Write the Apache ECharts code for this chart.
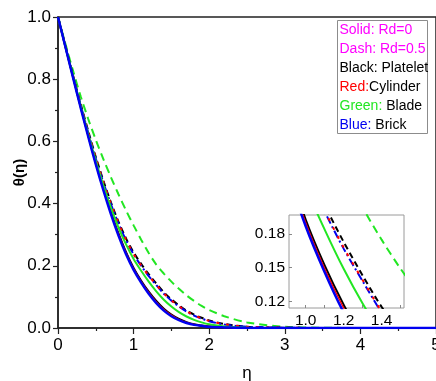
<!DOCTYPE html>
<html>
<head>
<meta charset="utf-8">
<script src="https://cdn.jsdelivr.net/npm/echarts@6/dist/echarts.min.js"></script>
<style>
  html, body { margin: 0; padding: 0; background: #fff; }
  #chart { width: 436px; height: 381px; }
</style>
</head>
<body>
<div id="chart"></div>
<script>
// Similarity variable eta
const eta = [0, 0.1, 0.2, 0.3, 0.4, 0.5, 0.6, 0.7, 0.8, 0.9, 1.0, 1.1, 1.2, 1.3, 1.4, 1.5,
             1.6, 1.7, 1.8, 1.9, 2.0, 2.2, 2.5, 3.0, 3.5, 4.0, 4.5, 5.0];

// Temperature profiles theta(eta), Rd = 0 (solid)
const plateletRd0 = [1, 0.903, 0.806, 0.711, 0.619, 0.531, 0.449, 0.373, 0.304, 0.244, 0.193, 0.152, 0.117, 0.087, 0.062, 0.043,
                     0.029, 0.019, 0.012, 0.008, 0.005, 0.002, 0, 0, 0, 0, 0, 0];
const cylinderRd0 = [1, 0.902, 0.805, 0.710, 0.617, 0.529, 0.446, 0.370, 0.301, 0.241, 0.190, 0.149, 0.114, 0.084, 0.059, 0.041,
                     0.027, 0.018, 0.011, 0.007, 0.005, 0.002, 0, 0, 0, 0, 0, 0];
const bladeRd0    = [1, 0.903, 0.807, 0.713, 0.623, 0.538, 0.459, 0.387, 0.323, 0.269, 0.222, 0.184, 0.149, 0.118, 0.091, 0.069,
                     0.051, 0.037, 0.026, 0.018, 0.012, 0.005, 0.001, 0, 0, 0, 0, 0];
const brickRd0    = [1, 0.902, 0.804, 0.708, 0.615, 0.526, 0.443, 0.366, 0.297, 0.237, 0.187, 0.146, 0.110, 0.080, 0.056, 0.038,
                     0.025, 0.016, 0.010, 0.007, 0.004, 0.002, 0, 0, 0, 0, 0, 0];

// Temperature profiles theta(eta), Rd = 0.5 (dashed)
const plateletRd05 = [1, 0.905, 0.811, 0.720, 0.633, 0.550, 0.474, 0.404, 0.342, 0.288, 0.243, 0.206, 0.173, 0.143, 0.115, 0.092,
                      0.073, 0.056, 0.043, 0.033, 0.024, 0.013, 0.004, 0.001, 0, 0, 0, 0];
const cylinderRd05 = [1, 0.904, 0.809, 0.717, 0.629, 0.546, 0.469, 0.399, 0.337, 0.283, 0.238, 0.201, 0.168, 0.139, 0.111, 0.089,
                      0.070, 0.054, 0.041, 0.031, 0.023, 0.012, 0.004, 0.001, 0, 0, 0, 0];
const bladeRd05    = [1, 0.912, 0.826, 0.745, 0.672, 0.605, 0.543, 0.485, 0.430, 0.378, 0.330, 0.284, 0.241, 0.204, 0.175, 0.149,
                      0.126, 0.105, 0.087, 0.071, 0.058, 0.038, 0.018, 0.004, 0.001, 0, 0, 0];
const brickRd05    = [1, 0.904, 0.809, 0.717, 0.628, 0.545, 0.468, 0.398, 0.336, 0.282, 0.237, 0.200, 0.167, 0.138, 0.110, 0.088,
                      0.069, 0.053, 0.040, 0.030, 0.022, 0.011, 0.004, 0.001, 0, 0, 0, 0];

// Tick labels
const xTicksMain = [0, 1, 2, 3, 4, 5];
const yTicksMain = [0, 0.2, 0.4, 0.6, 0.8, 1.0];
const xTicksInset = [1.0, 1.2, 1.4];
const yTicksInset = [0.12, 0.15, 0.18];

const BLACK = '#000000', RED = '#ff0000', GREEN = '#22e622', BLUE = '#0000f0', MAGENTA = '#ff00ff';
const FONT = 'Liberation Sans, Arial, sans-serif';

const pairs = arr => eta.map((x, i) => [x, arr[i]]);

// drawing order: last drawn sits on top
const curves = [
  { name: 'Blade Rd=0.5',    data: bladeRd05,    color: GREEN, type: [8, 5],        width: 2 },
  { name: 'Platelet Rd=0.5', data: plateletRd05, color: BLACK, type: [6, 4],        width: 2 },
  { name: 'Brick Rd=0.5',    data: brickRd05,    color: BLUE,  type: [8, 3, 2, 3],  width: 2 },
  { name: 'Cylinder Rd=0.5', data: cylinderRd05, color: RED,   type: [3, 7],        width: 2 },
  { name: 'Platelet Rd=0',   data: plateletRd0,  color: BLACK, type: 'solid',       width: 2 },
  { name: 'Cylinder Rd=0',   data: cylinderRd0,  color: RED,   type: 'solid',       width: 1.5 },
  { name: 'Blade Rd=0',      data: bladeRd0,     color: GREEN, type: 'solid',       width: 2 },
  { name: 'Brick Rd=0',      data: brickRd0,     color: BLUE,  type: 'solid',       width: 2.5 }
];

const series = [];
curves.forEach(c => {
  [0, 1].forEach(g => {
    series.push({
      name: c.name,
      type: 'line',
      xAxisIndex: g,
      yAxisIndex: g,
      data: pairs(c.data),
      smooth: 0.3,
      showSymbol: false,
      clip: true,
      z: g === 0 ? 2 : 7,
      lineStyle: { color: c.color, width: c.width, type: c.type }
    });
  });
});

const chart = echarts.init(document.getElementById('chart'), null, { renderer: 'canvas' });

const legendLines = [
  '{m|Solid: Rd=0}',
  '{m|Dash: Rd=0.5}',
  '{k|Black: Platelet}',
  '{r|Red:}{k|Cylinder}',
  '{g|Green:}{k| Blade}',
  '{b|Blue:}{k| Brick}'
];
const legendStyles = {
  m: { fill: MAGENTA, fontSize: 14, fontFamily: FONT },
  k: { fill: BLACK, fontSize: 14, fontFamily: FONT },
  r: { fill: RED, fontSize: 14, fontFamily: FONT },
  g: { fill: GREEN, fontSize: 14, fontFamily: FONT },
  b: { fill: BLUE, fontSize: 14, fontFamily: FONT }
};

const option = {
  animation: false,
  backgroundColor: '#ffffff',
  grid: [
    { left: 58, right: 0, top: 17, bottom: 53, show: true, borderColor: '#222', borderWidth: 1.5, z: 0,
      containLabel: false, outerBoundsMode: 'none' },
    { left: 289, top: 215, width: 115, height: 93, show: true, borderColor: '#9a9a9a', borderWidth: 1,
      backgroundColor: '#ffffff', z: 5, containLabel: false, outerBoundsMode: 'none' }
  ],
  xAxis: [
    {
      type: 'value', gridIndex: 0, min: xTicksMain[0], max: xTicksMain[xTicksMain.length - 1], interval: 1,
      name: 'η', nameLocation: 'middle', nameGap: 37, nameMoveOverlap: false,
      nameTextStyle: { fontSize: 17, color: '#000', fontFamily: FONT },
      axisLine: { show: true, onZero: false, lineStyle: { color: '#222', width: 1.5 } },
      axisTick: { show: true, inside: false, length: 6, lineStyle: { color: '#222', width: 1.2 } },
      minorTick: { show: true, splitNumber: 2, length: 3, lineStyle: { color: '#222', width: 1.2 } },
      axisLabel: { fontSize: 17, color: '#000', fontFamily: FONT, margin: 9, showMaxLabel: true,
                   alignMaxLabel: 'center', formatter: v => String(v) },
      splitLine: { show: false }
    },
    {
      type: 'value', gridIndex: 1, min: 0.912, max: 1.518, z: 6,
      axisLine: { show: false },
      axisTick: { show: true, inside: true, length: 3, customValues: [1.0, 1.1, 1.2, 1.3, 1.4, 1.5],
                  lineStyle: { color: '#888', width: 1 } },
      axisLabel: { fontSize: 15.5, color: '#000', fontFamily: FONT, margin: 5, customValues: xTicksInset,
                   formatter: v => v.toFixed(1) },
      splitLine: { show: false }
    }
  ],
  yAxis: [
    {
      type: 'value', gridIndex: 0, min: yTicksMain[0], max: yTicksMain[yTicksMain.length - 1], interval: 0.2,
      name: 'θ(η)', nameLocation: 'middle', nameGap: 31, nameRotate: 90, nameMoveOverlap: false,
      nameTextStyle: { fontSize: 15, fontWeight: 'bold', color: '#000', fontFamily: FONT },
      axisLine: { show: true, onZero: false, lineStyle: { color: '#222', width: 1.5 } },
      axisTick: { show: true, inside: false, length: 5, lineStyle: { color: '#222', width: 1.2 } },
      minorTick: { show: true, splitNumber: 2, length: 3, lineStyle: { color: '#222', width: 1.2 } },
      axisLabel: { fontSize: 17, color: '#000', fontFamily: FONT, margin: 7, formatter: v => v.toFixed(1) },
      splitLine: { show: false }
    },
    {
      type: 'value', gridIndex: 1, min: 0.114, max: 0.197, z: 6,
      axisLine: { show: false },
      axisTick: { show: true, inside: true, length: 3, customValues: yTicksInset,
                  lineStyle: { color: '#888', width: 1 } },
      axisLabel: { fontSize: 15.5, color: '#000', fontFamily: FONT, margin: 4, customValues: yTicksInset,
                   formatter: v => v.toFixed(2) },
      splitLine: { show: false }
    }
  ],
  series: series,
  graphic: [
    {
      type: 'group', z: 20,
      children: [
        { type: 'rect', shape: { x: 337.5, y: 20.5, width: 90, height: 113 },
          style: { fill: '#ffffff', stroke: '#8c8c8c', lineWidth: 1 } }
      ].concat(legendLines.map((t, i) => ({
        type: 'text', x: 339.5, y: 30 + i * 19.06,
        style: { text: t, rich: legendStyles, verticalAlign: 'middle', align: 'left',
                 fontSize: 14, fontFamily: FONT }
      })))
    }
  ]
};

chart.setOption(option);
</script>
</body>
</html>
